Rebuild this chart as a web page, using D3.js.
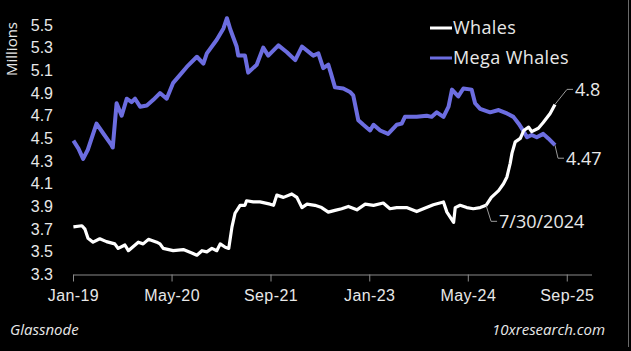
<!DOCTYPE html>
<html>
<head>
<meta charset="utf-8">
<script src="https://cdn.jsdelivr.net/npm/d3@7"></script>
<style>
  html, body { margin: 0; padding: 0; background: #000; }
  svg { display: block; font-family: "Open Sans", sans-serif; }
</style>
</head>
<body>
<div id="chart"></div>
<script>
// Whales (white line), values in millions
const whaleDates = ["2019-01-03","2019-02-14","2019-03-01","2019-03-16","2019-04-10","2019-05-13","2019-06-15","2019-07-26","2019-08-12","2019-09-14","2019-10-01","2019-11-19","2019-12-13","2020-01-08","2020-02-18","2020-03-05","2020-03-21","2020-05-09","2020-06-28","2020-08-09","2020-09-03","2020-09-28","2020-10-22","2020-11-16","2020-12-10","2020-12-27","2021-01-21","2021-02-07","2021-02-23","2021-03-10","2021-04-04","2021-04-28","2021-05-06","2021-06-08","2021-07-11","2021-08-30","2021-09-16","2021-10-02","2021-11-04","2021-12-15","2022-01-09","2022-02-03","2022-02-28","2022-04-08","2022-05-11","2022-06-13","2022-07-16","2022-08-18","2022-09-20","2022-11-01","2022-12-12","2023-01-22","2023-03-11","2023-04-13","2023-05-16","2023-07-04","2023-08-23","2023-09-25","2023-11-13","2024-01-02","2024-01-19","2024-02-21","2024-02-29","2024-03-24","2024-04-26","2024-05-28","2024-07-01","2024-07-30","2024-08-25","2024-09-30","2024-10-24","2024-11-10","2024-11-26","2024-12-05","2024-12-21","2025-01-15","2025-02-01","2025-02-25","2025-03-12","2025-04-14","2025-05-08","2025-06-11","2025-07-05"];
const whaleValues = [3.72,3.73,3.70,3.62,3.585,3.615,3.59,3.57,3.53,3.56,3.51,3.585,3.57,3.61,3.585,3.57,3.53,3.51,3.52,3.49,3.47,3.51,3.50,3.53,3.51,3.57,3.54,3.53,3.72,3.84,3.91,3.91,3.95,3.94,3.94,3.92,3.91,4.00,3.98,4.01,3.98,3.89,3.92,3.91,3.89,3.85,3.865,3.88,3.90,3.87,3.92,3.91,3.93,3.88,3.89,3.89,3.855,3.88,3.915,3.94,3.85,3.76,3.89,3.91,3.89,3.88,3.89,3.91,3.98,4.04,4.10,4.16,4.28,4.37,4.47,4.50,4.57,4.60,4.56,4.59,4.64,4.72,4.80];

// Mega Whales (blue line), values in millions
const megaDates = ["2019-01-03","2019-01-28","2019-02-20","2019-03-15","2019-04-27","2019-05-28","2019-07-10","2019-07-16","2019-08-04","2019-08-29","2019-09-23","2019-10-17","2019-11-03","2019-11-28","2019-12-31","2020-02-01","2020-03-05","2020-04-07","2020-05-09","2020-06-12","2020-07-15","2020-09-03","2020-10-05","2020-10-22","2020-12-10","2021-01-12","2021-01-29","2021-02-15","2021-03-18","2021-03-26","2021-04-28","2021-05-14","2021-06-25","2021-07-27","2021-08-21","2021-10-10","2021-11-21","2022-01-01","2022-02-03","2022-03-31","2022-04-25","2022-05-19","2022-06-13","2022-06-25","2022-07-16","2022-08-26","2022-09-28","2022-10-14","2022-11-08","2022-12-03","2023-01-05","2023-01-22","2023-02-24","2023-04-04","2023-05-16","2023-06-10","2023-06-26","2023-08-23","2023-10-11","2023-11-05","2023-11-30","2024-01-02","2024-01-27","2024-02-13","2024-03-15","2024-04-09","2024-05-20","2024-06-06","2024-07-01","2024-08-19","2024-09-30","2024-11-10","2024-12-12","2025-01-07","2025-02-01","2025-02-17","2025-03-12","2025-04-06","2025-05-08","2025-06-02","2025-07-05"];
const megaValues = [4.48,4.41,4.32,4.40,4.63,4.55,4.44,4.42,4.81,4.70,4.85,4.82,4.85,4.78,4.79,4.84,4.90,4.85,4.99,5.06,5.13,5.22,5.16,5.25,5.37,5.47,5.56,5.46,5.31,5.23,5.23,5.08,5.15,5.30,5.23,5.32,5.26,5.19,5.31,5.23,5.25,5.12,5.15,5.08,4.95,4.94,4.91,4.88,4.66,4.62,4.57,4.62,4.57,4.54,4.62,4.63,4.69,4.69,4.70,4.69,4.73,4.69,4.78,4.93,4.87,4.94,4.93,4.81,4.76,4.73,4.75,4.72,4.69,4.63,4.56,4.51,4.53,4.51,4.54,4.50,4.44];

const yTicks = [3.3, 3.5, 3.7, 3.9, 4.1, 4.3, 4.5, 4.7, 4.9, 5.1, 5.3, 5.5];
const xTicks = ["2019-01-01", "2020-05-01", "2021-09-01", "2023-01-01", "2024-05-01", "2025-09-01"];

const seriesNames = ["Whales", "Mega Whales"];
const seriesColors = ["#ffffff", "#6c6de0"];

const parse = d3.timeParse("%Y-%m-%d");
const whales = whaleDates.map((d, i) => ({ date: parse(d), value: whaleValues[i] }));
const mega = megaDates.map((d, i) => ({ date: parse(d), value: megaValues[i] }));

const W = 631, H = 351;
const svg = d3.select("#chart").append("svg")
    .attr("width", W)
    .attr("height", H);

svg.append("rect").attr("width", W).attr("height", H).attr("fill", "#000");

const x = d3.scaleTime()
    .domain([parse("2019-01-01"), parse("2026-01-01")])
    .range([73, 591.5]);

const y = d3.scaleLinear()
    .domain([3.3, 5.5])
    .range([274.5, 25]);

// x axis
const xAxis = svg.append("g")
    .attr("transform", "translate(0,274.5)")
    .call(d3.axisBottom(x)
        .tickValues(xTicks.map(parse))
        .tickFormat(d3.timeFormat("%b-%y"))
        .tickSize(7)
        .tickPadding(8)
        .tickSizeOuter(0));
xAxis.select(".domain").attr("stroke", "#8a8a8a");
xAxis.selectAll(".tick line").attr("stroke", "#8a8a8a");
xAxis.selectAll("text")
    .attr("fill", "#e8e8e8")
    .style("font-size", "16px")
    .style("letter-spacing", "0.4px");

// y axis
const yAxis = svg.append("g")
    .attr("transform", "translate(60,0)")
    .call(d3.axisLeft(y)
        .tickValues(yTicks)
        .tickFormat(d3.format(".1f"))
        .tickSize(0)
        .tickPadding(7));
yAxis.select(".domain").remove();
yAxis.selectAll("text")
    .attr("fill", "#e8e8e8")
    .style("font-size", "16px");

svg.append("text")
    .attr("transform", "rotate(-90)")
    .attr("x", -49)
    .attr("y", 12)
    .attr("dy", "0.35em")
    .attr("text-anchor", "middle")
    .attr("fill", "#e8e8e8")
    .style("font-size", "15px")
    .text("Millions");

// lines
const line = d3.line()
    .x(d => x(d.date))
    .y(d => y(d.value));

svg.append("path")
    .datum(mega)
    .attr("fill", "none")
    .attr("stroke", seriesColors[1])
    .attr("stroke-width", 4)
    .attr("stroke-linejoin", "round")
    .attr("d", line);

svg.append("path")
    .datum(whales)
    .attr("fill", "none")
    .attr("stroke", seriesColors[0])
    .attr("stroke-width", 3.2)
    .attr("stroke-linejoin", "round")
    .attr("d", line);

// legend
const legend = svg.append("g").attr("transform", "translate(430,28)");
seriesNames.forEach((name, i) => {
    const g = legend.append("g").attr("transform", `translate(0,${i * 30})`);
    g.append("line")
        .attr("x1", 0).attr("x2", 22)
        .attr("stroke", seriesColors[i])
        .attr("stroke-width", 3);
    g.append("text")
        .attr("x", 23)
        .attr("dy", "0.35em")
        .attr("fill", "#e8e8e8")
        .style("font-size", "18px")
        .style("letter-spacing", "0.4px")
        .text(name);
});

// end / callout labels
const lastW = whales[whales.length - 1];
const lastM = mega[mega.length - 1];
const marked = whales.find(d => d3.timeFormat("%Y-%m-%d")(d.date) === "2024-07-30");

function callout(pt, dx, dy, label) {
    const x0 = x(pt.date), y0 = y(pt.value);
    svg.append("polyline")
        .attr("points", `${x0},${y0} ${x0 + dx},${y0 + dy} ${x0 + dx + 6},${y0 + dy}`)
        .attr("fill", "none")
        .attr("stroke", "#9a9a9a")
        .attr("stroke-width", 1);
    svg.append("text")
        .attr("x", x0 + dx + 8)
        .attr("y", y0 + dy)
        .attr("dy", "0.35em")
        .attr("fill", "#e8e8e8")
        .style("font-size", "18px")
        .text(label);
}
callout(lastW, 12, -15, "4.8");
callout(lastM, 3, 13, "4.47");
callout(marked, 5, 16, "7/30/2024");

// sources
svg.append("text")
    .attr("x", 10).attr("y", 335)
    .attr("fill", "#e8e8e8")
    .style("font-size", "15px")
    .style("font-style", "italic")
    .text("Glassnode");

svg.append("text")
    .attr("x", 605).attr("y", 335)
    .attr("text-anchor", "end")
    .attr("fill", "#e8e8e8")
    .style("font-size", "15px")
    .style("font-style", "italic")
    .text("10xresearch.com");

// frame edge on the right
svg.append("line")
    .attr("x1", 628.5).attr("x2", 628.5)
    .attr("y1", 0).attr("y2", 347)
    .attr("stroke", "#6a6a6a")
    .attr("stroke-width", 1);
</script>
</body>
</html>
